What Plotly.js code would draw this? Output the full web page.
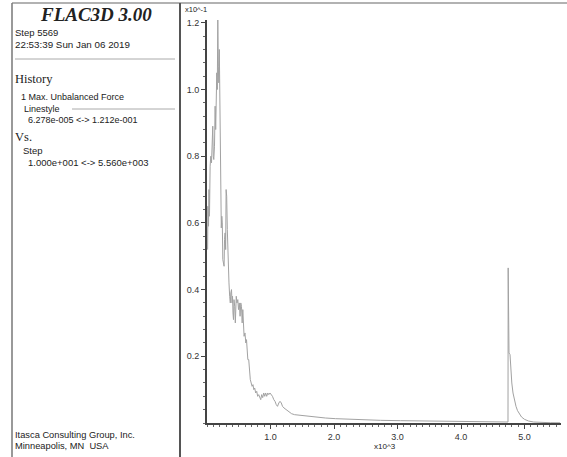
<!DOCTYPE html>
<html>
<head>
<meta charset="utf-8">
<script src="https://cdn.plot.ly/plotly-3.0.1.min.js"></script>
<style>html,body{margin:0;padding:0;background:#fff;}#chart{width:567px;height:457px;}</style>
</head>
<body>
<div id="chart"></div>
<script>
// History: Max. Unbalanced Force (x10^-1) vs Step
var steps = [10,14,24,31,39,49,60,71,80,91,99,107,118,128,137,145,154,162,170,178,186,194,202,208,214,219,225,233,241,249,260,269,276,285,294,301,310,320,328,334,346,357,367,375,386,394,402,409,417,425,436,446,454,461,472,485,496,509,521,532,543,554,564,575,584,598,611,622,633,643,657,669,682,696,710,724,737,751,767,783,798,814,830,846,861,877,893,909,924,940,957,973,992,1011,1031,1052,1071,1091,1110,1131,1150,1170,1189,1213,1244,1283,1331,1378,1425,1472,1551,1630,1724,1866,2024,2260,2496,2732,3047,3362,3677,3992,4307,4622,4740,4743,4751,4756,4772,4784,4800,4819,4843,4866,4890,4921,4953,5000,5063,5142,5252,5409,5560];
var force = [0.52,0.65,0.59,0.70,0.62,0.77,0.80,0.78,0.85,0.89,0.80,0.79,0.83,0.95,0.88,0.96,1.05,1.00,1.21,1.07,1.02,1.12,0.92,0.89,0.80,0.60,0.585,0.62,0.60,0.49,0.48,0.47,0.55,0.57,0.52,0.70,0.68,0.58,0.50,0.445,0.42,0.38,0.36,0.39,0.40,0.36,0.38,0.33,0.31,0.37,0.35,0.30,0.33,0.38,0.36,0.37,0.34,0.36,0.32,0.36,0.35,0.30,0.34,0.29,0.26,0.27,0.24,0.25,0.20,0.19,0.19,0.15,0.13,0.12,0.11,0.115,0.10,0.105,0.09,0.095,0.08,0.085,0.075,0.07,0.085,0.076,0.09,0.08,0.09,0.08,0.09,0.085,0.09,0.085,0.08,0.07,0.065,0.055,0.05,0.06,0.065,0.06,0.05,0.045,0.04,0.035,0.028,0.025,0.024,0.022,0.021,0.019,0.017,0.015,0.013,0.011,0.009,0.008,0.007,0.006,0.005,0.004,0.004,0.003,0.003,0.465,0.30,0.21,0.205,0.15,0.12,0.09,0.065,0.05,0.037,0.026,0.018,0.011,0.006,0.003,0.0015,0.0008,0.0006];

var xTickVals = [1000,2000,3000,4000,5000];
var xTickText = ["1.0","2.0","3.0","4.0","5.0"];
var yTickVals = [0.2,0.4,0.6,0.8,1.0,1.2];
var yTickText = ["0.2","0.4","0.6","0.8","1.0","1.2"];

var W = 567, Hh = 457;
var M = {l:207, r:6, t:20, b:34};
var PW = W - M.l - M.r, PH = Hh - M.t - M.b;
function px(x){ return (x - M.l) / PW; }
function py(y){ return (Hh - M.b - y) / PH; }

var sans = "Liberation Sans, Arial, sans-serif";
var serif = "Liberation Serif, Times New Roman, serif";

function txt(text, x, y, size, family, extra){
  var a = {text:text, xref:"paper", yref:"paper", x:px(x - 2), y:py(y), xanchor:"left", yanchor:"middle",
    showarrow:false, font:{family:family||sans, size:size||9.5, color:"#222"}};
  if (extra) for (var k in extra) a[k] = extra[k];
  return a;
}

var annotations = [
  txt("<b><i>FLAC3D 3.00</i></b>", 98, 14, 19, serif, {xanchor:"center"}),
  txt("Step 5569", 15, 33, 9.5),
  txt("22:53:39 Sun Jan 06 2019", 15, 44, 9.8),
  txt("History", 15, 79, 12.5, serif),
  txt("1 Max. Unbalanced Force", 21, 97, 9),
  txt("Linestyle", 24, 109, 9),
  txt("6.278e-005 <-> 1.212e-001", 28, 120, 9),
  txt("Vs.", 15, 137, 12.5, serif),
  txt("Step", 23, 150, 9.5),
  txt("1.000e+001 <-> 5.560e+003", 28, 162, 9.5),
  txt("Itasca Consulting Group, Inc.", 15, 435, 9.3),
  txt("Minneapolis, MN  USA", 15, 446, 9.3),
  txt("x10^-1", 185, 10, 7.5),
  txt("x10^3", 374, 447, 8)
];

var shapes = [
  {type:"line", xref:"paper", yref:"paper", x0:px(12), x1:px(567), y0:py(3), y1:py(3), line:{color:"#999", width:1.5}},
  {type:"line", xref:"paper", yref:"paper", x0:px(12), x1:px(12), y0:py(3), y1:py(457), line:{color:"#777", width:1.5}},
  {type:"line", xref:"paper", yref:"paper", x0:px(180), x1:px(180), y0:py(3), y1:py(457), line:{color:"#555", width:2}},
  {type:"line", xref:"paper", yref:"paper", x0:px(15), x1:px(175), y0:py(59), y1:py(59), line:{color:"#aaa", width:1}},
  {type:"line", xref:"paper", yref:"paper", x0:px(72), x1:px(175), y0:py(109), y1:py(109), line:{color:"#aaa", width:1}}
];

var trace = {x:steps, y:force, type:"scatter", mode:"lines", line:{color:"#a2a2a2", width:1}, hoverinfo:"skip"};

var layout = {
  width:W, height:Hh, margin:M, showlegend:false,
  paper_bgcolor:"#fff", plot_bgcolor:"#fff",
  xaxis:{range:[0, PW/0.0635], showgrid:false, zeroline:false, showline:true, linecolor:"#444", linewidth:2,
    tickmode:"array", tickvals:xTickVals, ticktext:xTickText, ticks:"outside", ticklen:4, tickcolor:"#444",
    tickfont:{family:sans, size:9, color:"#333"},
    minor:{dtick:100, ticks:"outside", ticklen:2, tickcolor:"#666"}},
  yaxis:{range:[0, PH/333.5], showgrid:false, zeroline:false, showline:true, linecolor:"#444", linewidth:2,
    tickmode:"array", tickvals:yTickVals, ticktext:yTickText, ticks:"outside", ticklen:4, tickcolor:"#444",
    tickfont:{family:sans, size:9, color:"#333"},
    minor:{dtick:0.04, ticks:"outside", ticklen:2, tickcolor:"#666"}},
  annotations:annotations, shapes:shapes
};

Plotly.newPlot("chart", [trace], layout, {displayModeBar:false, staticPlot:true});
</script>
</body>
</html>
